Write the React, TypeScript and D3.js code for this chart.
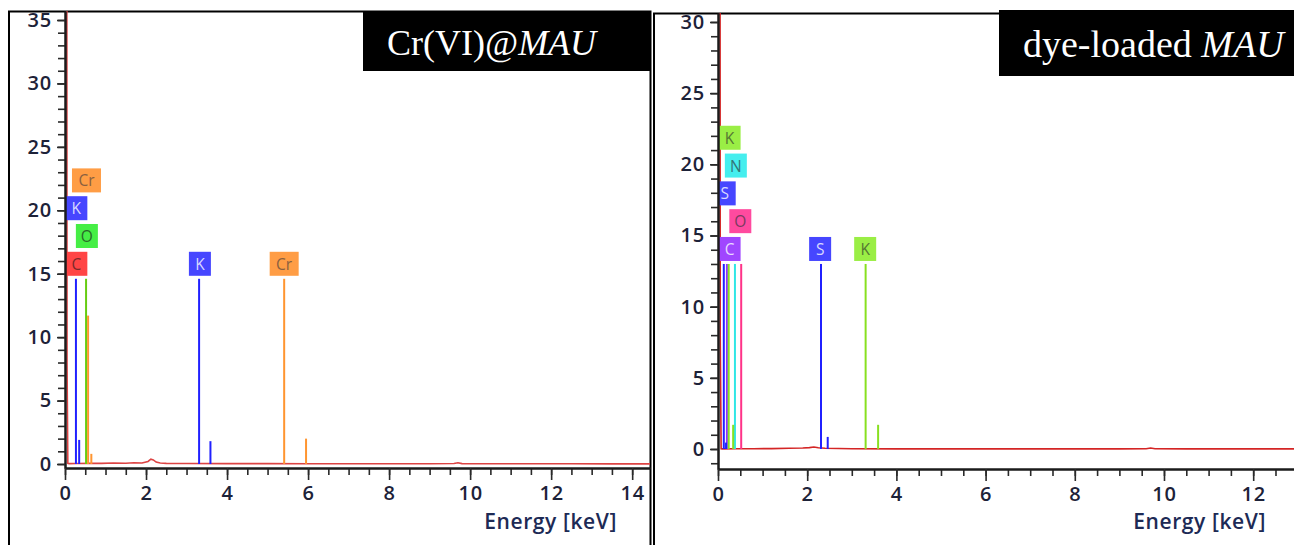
import * as React from "react"
import { select, scaleLinear, axisLeft, axisBottom, line, range } from "d3"

// Cr(VI)@MAU spectrum: marker lines (element, keV, counts)
const crPeakElements = ["K", "K", "O", "Cr", "Cr", "K", "K", "Cr", "Cr"]
const crPeakEnergy = [0.27, 0.35, 0.52, 0.57, 0.65, 3.31, 3.59, 5.41, 5.95]
const crPeakCounts = [14.6, 1.9, 14.6, 11.7, 0.8, 14.6, 1.8, 14.6, 2.0]
const crLabelElements = ["C", "O", "K", "Cr", "K", "Cr"]
const crLabelEnergy = [0.28, 0.54, 0.28, 0.53, 3.33, 5.41]
const crLabelLevel = [0, 1, 2, 3, 0, 0]
const crLabelBase = 14.6
const crBgEnergy = [0.045, 0.05, 0.07, 0.1, 0.3, 0.6, 0.9, 1.2, 1.5, 1.7, 1.9, 2.05, 2.12, 2.18, 2.25, 2.35, 2.5, 3.0, 4.0, 5.0, 6.0, 7.0, 8.0, 9.0, 9.6, 9.7, 9.8, 10.5, 11.5, 12.5, 13.5, 14.5]
const crBgCounts = [40, 8, 0.05, 0.03, 0.04, 0.06, 0.05, 0.08, 0.06, 0.1, 0.08, 0.2, 0.38, 0.32, 0.15, 0.08, 0.05, 0.04, 0.03, 0.03, 0.02, 0.02, 0.02, 0.02, 0.04, 0.1, 0.03, 0.02, 0.02, 0.02, 0.01, 0.01]

// dye-loaded MAU spectrum
const dyePeakElements = ["S", "C", "K", "N", "O", "S", "K", "S", "S", "K", "K"]
const dyePeakEnergy = [0.13, 0.2, 0.24, 0.38, 0.52, 0.18, 0.34, 2.31, 2.46, 3.31, 3.59]
const dyePeakCounts = [13, 13, 13, 13, 13, 0.45, 1.7, 13, 0.85, 13, 1.7]
const dyeLabelElements = ["K", "N", "S", "O", "C", "S", "K"]
const dyeLabelEnergy = [0.26, 0.4, 0.15, 0.5, 0.26, 2.29, 3.3]
const dyeLabelLevel = [4, 3, 2, 1, 0, 0, 0]
const dyeLabelBase = 13
const dyeBgEnergy = [0.045, 0.05, 0.07, 0.1, 0.4, 0.8, 1.2, 1.6, 1.9, 2.05, 2.15, 2.25, 2.4, 2.7, 3.0, 4.0, 5.0, 6.0, 7.0, 8.0, 9.0, 9.6, 9.7, 9.8, 10.5, 11.5, 12.5, 13.0]
const dyeBgCounts = [40, 8, 0.02, 0.01, 0.02, 0.02, 0.03, 0.05, 0.07, 0.1, 0.14, 0.09, 0.05, 0.03, 0.02, 0.01, 0.01, 0.01, 0.01, 0.01, 0.01, 0.02, 0.07, 0.02, 0.01, 0.01, 0.01, 0.01]

const crColors = {
  C: { box: "#ff4545", line: "#ff3030", text: "#7a2a2a" },
  O: { box: "#45ee45", line: "#66cc11", text: "#2a6a2a" },
  K: { box: "#4646ff", line: "#2020ff", text: "#d8d8ff" },
  Cr: { box: "#ff9d45", line: "#ff9530", text: "#8a6040" },
}
const dyeColors = {
  K: { box: "#9aee45", line: "#88e020", text: "#557733" },
  N: { box: "#45eeee", line: "#30e6e6", text: "#337777" },
  S: { box: "#4646ff", line: "#2020ff", text: "#d8d8ff" },
  O: { box: "#ff4a9f", line: "#ff3388", text: "#7a3a60" },
  C: { box: "#a046ff", line: "#9030ff", text: "#e8d8ff" },
}

const tickFont = "'Open Sans', sans-serif"

function drawPanel(svg, cfg) {
  const x = scaleLinear().domain(cfg.xDomain).range(cfg.xRange)
  const y = scaleLinear().domain(cfg.yDomain).range(cfg.yRange)
  const g = svg.append("g")

  const clipId = "clip-" + cfg.id
  g.append("clipPath")
    .attr("id", clipId)
    .append("rect")
    .attr("x", cfg.xRange[0])
    .attr("y", cfg.yRange[1])
    .attr("width", cfg.xRange[1] - cfg.xRange[0])
    .attr("height", cfg.yRange[0] - cfg.yRange[1])

  const plot = g.append("g").attr("clip-path", `url(#${clipId})`)

  // background spectrum
  const bgLine = line()
    .x((d) => x(d[0]))
    .y((d) => y(d[1]))
  const bgData = cfg.bgEnergy.map((e, i) => [e, cfg.bgCounts[i]])
  plot
    .append("path")
    .datum(bgData)
    .attr("fill", "none")
    .attr("stroke", cfg.bgColor)
    .attr("stroke-width", 1.6)
    .attr("d", bgLine)

  // marker lines
  cfg.peakEnergy.forEach((e, i) => {
    const c = cfg.colors[cfg.peakElements[i]]
    plot
      .append("line")
      .attr("x1", x(e))
      .attr("x2", x(e))
      .attr("y1", y(0))
      .attr("y2", y(cfg.peakCounts[i]))
      .attr("stroke", c.line)
      .attr("stroke-width", 2)
  })

  // element labels
  cfg.labelElements.forEach((el, i) => {
    const c = cfg.colors[el]
    const w = el.length > 1 ? 29 : 22
    const cx = x(cfg.labelEnergy[i])
    const top = y(cfg.labelBase) - 3 - 24 - cfg.labelLevel[i] * 27.8
    plot
      .append("rect")
      .attr("x", cx - w / 2)
      .attr("y", top)
      .attr("width", w)
      .attr("height", 24)
      .attr("fill", c.box)
    plot
      .append("text")
      .attr("x", cx)
      .attr("y", top + 18)
      .attr("text-anchor", "middle")
      .attr("font-family", tickFont)
      .attr("font-size", 15.5)
      .attr("fill", c.text)
      .text(el)
  })

  // axes
  const styleAxis = (a) => {
    a.select(".domain").attr("stroke", "#1b1b1b").attr("stroke-width", 2)
    a.selectAll(".tick line").attr("stroke", "#2a2a2a").attr("stroke-width", 1.6)
    a.selectAll(".tick text")
      .attr("font-family", tickFont)
      .attr("font-weight", 600)
      .attr("font-size", 20)
      .attr("letter-spacing", 0.8)
      .attr("fill", "#1d2238")
  }

  g.append("g")
    .attr("transform", `translate(${cfg.xRange[0]},0)`)
    .call(axisLeft(y).tickValues(cfg.yMinor).tickSize(7).tickSizeOuter(0).tickFormat(() => ""))
    .call(styleAxis)
  g.append("g")
    .attr("transform", `translate(${cfg.xRange[0]},0)`)
    .call(axisLeft(y).tickValues(cfg.yMajor).tickSize(8).tickSizeOuter(0).tickPadding(5))
    .call(styleAxis)

  g.append("g")
    .attr("transform", `translate(0,${cfg.yRange[0]})`)
    .call(axisBottom(x).tickValues(cfg.xMinor).tickSize(7).tickSizeOuter(0).tickFormat(() => ""))
    .call(styleAxis)
  g.append("g")
    .attr("transform", `translate(0,${cfg.yRange[0]})`)
    .call(axisBottom(x).tickValues(cfg.xMajor).tickSize(12).tickSizeOuter(0).tickPadding(6))
    .call(styleAxis)

  g.append("text")
    .attr("x", cfg.xTitleRight)
    .attr("y", 529)
    .attr("text-anchor", "end")
    .attr("font-family", tickFont)
    .attr("font-weight", 600)
    .attr("font-size", 21)
    .attr("letter-spacing", 0.6)
    .attr("fill", "#1d2a55")
    .text("Energy [keV]")

  // title box
  g.append("rect")
    .attr("x", cfg.box[0])
    .attr("y", cfg.box[1])
    .attr("width", cfg.box[2])
    .attr("height", cfg.box[3])
    .attr("fill", "#000")
  const t = g
    .append("text")
    .attr("x", cfg.titleX)
    .attr("y", cfg.titleY)
    .attr("font-family", "'Liberation Serif', 'Times New Roman', serif")
    .attr("font-size", cfg.titleSize)
    .attr("fill", "#fff")
  t.append("tspan").text(cfg.title[0])
  t.append("tspan").attr("font-style", "italic").text(cfg.title[1])
}

export default function App() {
  const svgRef = React.useRef(null)

  React.useEffect(() => {
    const svg = select(svgRef.current)
    svg.selectAll("*").remove()

    // frames
    const frame = svg.append("g").attr("fill", "none").attr("stroke", "#000").attr("stroke-width", 2)
    frame.append("path").attr("d", "M9,545 V11.5 H650.5 V545")
    frame.append("path").attr("d", "M654,545 V13.5 H1294")

    drawPanel(svg, {
      id: "cr",
      xDomain: [0, 14.44],
      xRange: [65, 650],
      yDomain: [-0.315, 35.71],
      yRange: [468, 11],
      yMajor: range(0, 36, 5),
      yMinor: range(0, 36, 1),
      xMajor: range(0, 15, 2),
      xMinor: range(0, 14.5, 0.5),
      peakElements: crPeakElements,
      peakEnergy: crPeakEnergy,
      peakCounts: crPeakCounts,
      labelElements: crLabelElements,
      labelEnergy: crLabelEnergy,
      labelLevel: crLabelLevel,
      labelBase: crLabelBase,
      bgEnergy: crBgEnergy,
      bgCounts: crBgCounts,
      bgColor: "#dd4444",
      colors: crColors,
      xTitleRight: 617,
      box: [363, 11, 287, 60],
      title: ["Cr(VI)@", "MAU"],
      titleX: 387,
      titleY: 55,
      titleSize: 36,
    })

    drawPanel(svg, {
      id: "dye",
      xDomain: [0, 12.915],
      xRange: [718, 1294],
      yDomain: [-1.405, 30.632],
      yRange: [469, 13],
      yMajor: range(0, 31, 5),
      yMinor: range(-1, 31, 1),
      xMajor: range(0, 13, 2),
      xMinor: range(0, 13, 0.5),
      peakElements: dyePeakElements,
      peakEnergy: dyePeakEnergy,
      peakCounts: dyePeakCounts,
      labelElements: dyeLabelElements,
      labelEnergy: dyeLabelEnergy,
      labelLevel: dyeLabelLevel,
      labelBase: dyeLabelBase,
      bgEnergy: dyeBgEnergy,
      bgCounts: dyeBgCounts,
      bgColor: "#d42525",
      colors: dyeColors,
      xTitleRight: 1266,
      box: [999, 10, 295, 66],
      title: ["dye-loaded ", "MAU"],
      titleX: 1023,
      titleY: 57,
      titleSize: 38,
    })
  }, [])

  return (
    <svg
      ref={svgRef}
      width={1294}
      height={545}
      style={{ position: "absolute", left: 0, top: 0, background: "#fff" }}
    ></svg>
  )
}
